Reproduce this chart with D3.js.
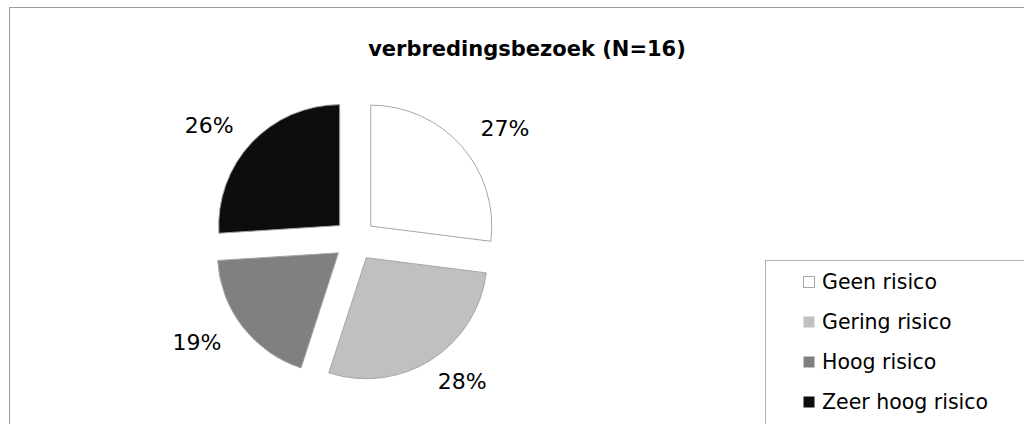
<!DOCTYPE html>
<html>
<head>
<meta charset="utf-8">
<title>verbredingsbezoek</title>
<script src="https://d3js.org/d3.v7.min.js"></script>
<style>
  body { margin: 0; background: #fff; }
  text { font-family: "DejaVu Sans", Verdana, sans-serif; fill: #000; }
</style>
</head>
<body>
<script>
// data
var categories = ["Geen risico", "Gering risico", "Hoog risico", "Zeer hoog risico"];
var percentages = [27, 28, 19, 26];
var colours = ["#ffffff", "#c0c0c0", "#808080", "#0d0d0d"];
var title = "verbredingsbezoek (N=16)";

var W = 1024, H = 424;
var cx = 355, cy = 240;
var radius = 121, explode = 21;
// labels sit on an ellipse round the pie (wider than tall, like excel does it)
var labelRx = 200, labelRy = 168;

var svg = d3.select("body").append("svg")
  .attr("width", W)
  .attr("height", H);

// chart border
svg.append("rect")
  .attr("x", 9.5).attr("y", 7.5)
  .attr("width", 1040).attr("height", 440)
  .attr("fill", "#fff")
  .attr("stroke", "#9a9a9a")
  .attr("stroke-width", 1);

svg.append("text")
  .attr("x", 527).attr("y", 56)
  .attr("text-anchor", "middle")
  .style("font-size", "21px")
  .style("font-weight", "bold")
  .text(title);

var pie = d3.pie().sort(null).value(function(d) { return d; });
var arc = d3.arc().innerRadius(0).outerRadius(radius);
var slices = pie(percentages);

var g = svg.append("g").attr("transform", "translate(" + cx + "," + cy + ")");

function mid(d) { return (d.startAngle + d.endAngle) / 2; }

g.selectAll("path.slice")
  .data(slices)
  .enter().append("path")
  .attr("class", "slice")
  .attr("d", arc)
  .attr("transform", function(d) {
    var a = mid(d);
    return "translate(" + (Math.sin(a) * explode) + "," + (-Math.cos(a) * explode) + ")";
  })
  .attr("fill", function(d, i) { return colours[i]; })
  .attr("stroke", "#a6a6a6")
  .attr("stroke-width", 1);

g.selectAll("text.lbl")
  .data(slices)
  .enter().append("text")
  .attr("class", "lbl")
  .attr("x", function(d) { return Math.sin(mid(d)) * labelRx; })
  .attr("y", function(d) { return -Math.cos(mid(d)) * labelRy; })
  .attr("text-anchor", "middle")
  .attr("dominant-baseline", "central")
  .style("font-size", "22px")
  .text(function(d) { return d.data + "%"; });

// legend
var legend = svg.append("g");
legend.append("rect")
  .attr("x", 765.5).attr("y", 260.5)
  .attr("width", 300).attr("height", 200)
  .attr("fill", "#fff")
  .attr("stroke", "#b0b0b0");

var item = legend.selectAll("g.item")
  .data(categories)
  .enter().append("g")
  .attr("class", "item")
  .attr("transform", function(d, i) { return "translate(803," + (282 + i * 40) + ")"; });

item.append("rect")
  .attr("x", 0.5).attr("y", -5.5)
  .attr("width", 11).attr("height", 11)
  .attr("fill", function(d, i) { return colours[i]; })
  .attr("stroke", function(d, i) { return i === 0 ? "#a6a6a6" : "none"; });

item.append("text")
  .attr("x", 19).attr("y", 0)
  .attr("dominant-baseline", "central")
  .style("font-size", "20.5px")
  .text(function(d) { return d; });
</script>
</body>
</html>
